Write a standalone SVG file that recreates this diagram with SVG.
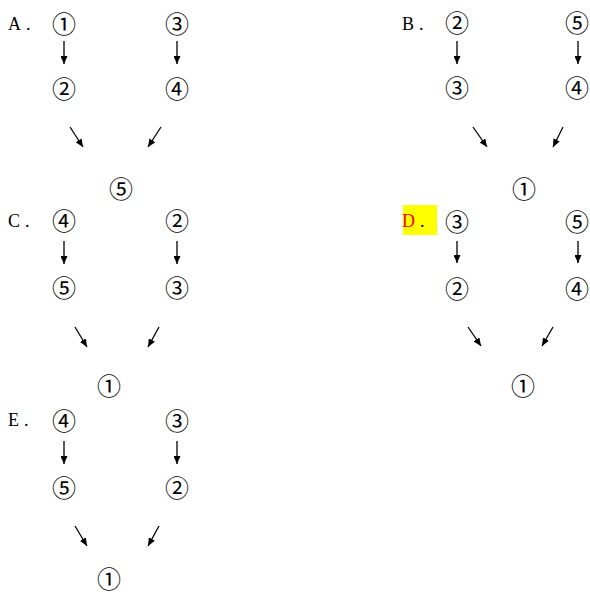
<svg xmlns="http://www.w3.org/2000/svg" width="590" height="593" viewBox="0 0 590 593">
<defs>
<style>
.n{font-family:"Noto Sans CJK SC","DejaVu Sans",sans-serif;font-size:24px;fill:#000;text-anchor:middle;dominant-baseline:central}
.l{font-family:"Liberation Serif",serif;font-size:18px;fill:#000;letter-spacing:5px}
.c line{stroke:#000;stroke-width:1.3;marker-end:url(#ah)}
</style>
<marker id="ah" markerUnits="userSpaceOnUse" markerWidth="9" markerHeight="7" refX="8" refY="3.5" orient="auto">
<path d="M0,0 L8,3.5 L0,7 Z" fill="#000"/>
</marker>
</defs>
<rect width="590" height="593" fill="#fff"/>
<g id="optA">
<text class="l" x="8" y="30">A.</text>
<text class="n" x="64" y="22">①</text>
<text class="n" x="177" y="22">③</text>
<text class="n" x="64" y="87">②</text>
<text class="n" x="177" y="87">④</text>
<text class="n" x="121" y="187">⑤</text>
</g>
<g id="optB">
<text class="l" x="402" y="30">B.</text>
<text class="n" x="457" y="21">②</text>
<text class="n" x="577" y="21">⑤</text>
<text class="n" x="457" y="86">③</text>
<text class="n" x="577" y="86">④</text>
<text class="n" x="524" y="187">①</text>
</g>
<g id="optC">
<text class="l" x="8" y="227">C.</text>
<text class="n" x="64" y="219">④</text>
<text class="n" x="177" y="219">②</text>
<text class="n" x="64" y="286">⑤</text>
<text class="n" x="177" y="286">③</text>
<text class="n" x="109" y="384">①</text>
</g>
<g id="optD">
<rect x="403" y="205" width="34" height="30" fill="#ffff00"/>
<text class="l" x="402" y="227" style="fill:#ff0000">D<tspan fill="#000">.</tspan></text>
<text class="n" x="457" y="220">③</text>
<text class="n" x="577" y="220">⑤</text>
<text class="n" x="457" y="287">②</text>
<text class="n" x="577" y="287">④</text>
<text class="n" x="523" y="384">①</text>
</g>
<g id="optE">
<text class="l" x="8" y="426">E.</text>
<text class="n" x="64" y="419">④</text>
<text class="n" x="177" y="419">③</text>
<text class="n" x="64" y="486">⑤</text>
<text class="n" x="177" y="486">②</text>
<text class="n" x="109" y="577">①</text>
</g>
<g id="connectors" class="c">
<line x1="64" y1="41" x2="64" y2="64"/>
<line x1="177" y1="41" x2="177" y2="64"/>
<line x1="70" y1="127" x2="83" y2="147"/>
<line x1="161" y1="127" x2="148" y2="147"/>
<line x1="457" y1="41" x2="457" y2="64"/>
<line x1="578" y1="41" x2="578" y2="64"/>
<line x1="473" y1="127" x2="487" y2="147"/>
<line x1="563" y1="127" x2="553" y2="147"/>
<line x1="64" y1="241" x2="64" y2="264"/>
<line x1="177" y1="241" x2="177" y2="264"/>
<line x1="75" y1="327" x2="87" y2="347"/>
<line x1="159" y1="327" x2="148" y2="347"/>
<line x1="457" y1="241" x2="457" y2="263"/>
<line x1="578" y1="241" x2="578" y2="263"/>
<line x1="468" y1="327" x2="481" y2="346"/>
<line x1="553" y1="327" x2="542" y2="346"/>
<line x1="64" y1="441" x2="64" y2="464"/>
<line x1="177" y1="441" x2="177" y2="464"/>
<line x1="75" y1="526" x2="87" y2="546"/>
<line x1="159" y1="526" x2="148" y2="546"/>
</g>
</svg>
